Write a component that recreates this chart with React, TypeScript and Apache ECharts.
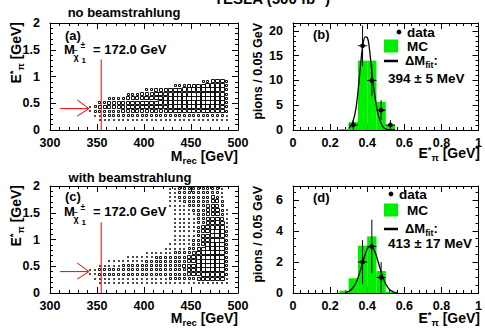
import React, { useEffect, useRef } from 'react';
import * as echarts from 'echarts';

const FONT = '"Liberation Sans", Arial, Helvetica, sans-serif';

// ---- 2D box histograms (M_rec vs E*_pi) ----
const mCenters = [
  342.5, 347.5, 352.5, 357.5, 362.5, 367.5, 372.5, 377.5, 382.5, 387.5,
  392.5, 397.5, 402.5, 407.5, 412.5, 417.5, 422.5, 427.5, 432.5, 437.5,
  442.5, 447.5, 452.5, 457.5, 462.5, 467.5, 472.5, 477.5, 482.5, 487.5,
];
const mBinWidth = 5;
const eBinWidth = 0.08;
const maxLevel = 8;

const eRowsA = [0.92, 0.84, 0.76, 0.68, 0.6, 0.52, 0.44, 0.36, 0.28, 0.2];
const boxLevelsA = [
  '00000 00000 00000 00000 00003 45663',
  '00000 00000 00000 00034 45566 77773',
  '00000 00000 00345 55666 77777 88873',
  '00000 00034 45556 66777 77888 88873',
  '00003 34455 55666 67777 78888 88873',
  '00345 55556 66666 77777 77788 88873',
  '24555 55566 66666 66777 77777 77763',
  '23444 44555 55555 55666 66666 66663',
  '01233 33333 33444 44444 44444 44442',
  '00111 11111 11111 11111 11111 11111',
];

const eRowsC = [
  1.96, 1.88, 1.8, 1.72, 1.64, 1.56, 1.48, 1.4, 1.32, 1.24, 1.16, 1.08,
  1.0, 0.92, 0.84, 0.76, 0.68, 0.6, 0.52, 0.44, 0.36, 0.28, 0.2,
];
const boxLevelsC = [
  '00000 00000 00000 00123 34444 44410',
  '00000 00000 00000 00123 34444 44420',
  '00000 00000 00000 00123 33444 45420',
  '00000 00000 00000 00112 33344 45530',
  '00000 00000 00000 00112 23344 55530',
  '00000 00000 00000 00012 22334 55631',
  '00000 00000 00000 00011 22234 55641',
  '00000 00000 00000 00011 12234 56652',
  '00000 00000 00000 00011 11234 56762',
  '00000 00000 00000 00011 11235 67772',
  '00000 00000 00000 00011 11245 67873',
  '00000 00000 00000 00011 12245 67873',
  '00000 00000 00000 00011 12345 67883',
  '00000 00000 00000 00112 22345 78883',
  '00000 00000 00000 01122 23456 78883',
  '00000 00000 00222 22233 34567 88883',
  '00000 00022 22223 33334 45677 88883',
  '00002 22222 22333 33344 45677 88883',
  '00222 22333 33333 34444 55677 88883',
  '12333 33333 33333 33444 45677 88883',
  '12333 33333 33333 33444 45667 77773',
  '01222 22222 22222 22333 33455 66662',
  '00111 11111 11111 11111 11222 22221',
];

// red markers (M_rec threshold line and arrow at E*=0.4)
const thresholdLine = [[354.5, 0], [354.5, 1.32]];
const arrowShaft = [[310.6, 0.4], [341, 0.4]];
const arrowHead = [[329, 0.56], [341.5, 0.4], [329, 0.26]];

// ---- 1D histograms (E*_pi) ----
const histBinWidth = 0.05;
const histLo = [0.25, 0.3, 0.35, 0.4, 0.45, 0.5];
const mcB = [0.2, 1.6, 14, 14, 5.7, 1.0];
const mcD = [0.15, 0.95, 3.05, 3.65, 1.42, 0.08];

const dataEB = [0.325, 0.375, 0.425, 0.475, 0.525];
const dataB = [1, 17, 10, 4, 1];
const errB = [1, 4.1, 3.2, 2, 1];

const dataED = [0.375, 0.425, 0.475];
const dataD = [2, 3, 1];
const errD = [1.41, 1.73, 1];

const fitEB = [0.3, 0.32, 0.34, 0.36, 0.375, 0.39, 0.4, 0.41, 0.43, 0.445, 0.46, 0.48, 0.5, 0.53, 0.55];
const fitB = [0.3, 1.3, 4.5, 11.5, 16.8, 18.8, 18.7, 17.0, 10.0, 6.0, 3.0, 0.9, 0.2, 0.02, 0];

const fitED = [0.28, 0.3, 0.32, 0.34, 0.36, 0.38, 0.4, 0.42, 0.44, 0.46, 0.48, 0.5, 0.52, 0.54, 0.56];
const fitD = [0.03, 0.1, 0.29, 0.68, 1.33, 2.14, 2.82, 3.05, 2.7, 1.97, 1.18, 0.58, 0.23, 0.08, 0.02];

// axis ranges: [min, max, interval, minor splits]
const axisX = [
  [300, 500, 50, 5],
  [0, 1, 0.2, 5],
  [300, 500, 50, 5],
  [0, 1, 0.2, 5],
];
const axisY = [
  [0, 2, 0.5, 5],
  [0, 21.6, 5, 5],
  [0, 2, 0.5, 5],
  [0, 6.9, 2, 4],
];

const grids = [
  { left: 50, top: 23, width: 188, height: 107 },
  { left: 293, top: 23, width: 189, height: 107 },
  { left: 50, top: 186, width: 188, height: 107 },
  { left: 293, top: 186, width: 189, height: 107 },
];

function axisDef(g: number, pos: string, r: number[], showLabel: boolean, dim: string) {
  const roundMax = Math.abs(r[1] / r[2] - Math.round(r[1] / r[2])) < 1e-6;
  return {
    type: 'value',
    gridIndex: g,
    position: pos,
    min: r[0],
    max: r[1],
    interval: r[2],
    axisLine: { show: true, onZero: false, lineStyle: { color: '#000', width: 1 } },
    axisTick: { show: true, inside: true, length: 6, lineStyle: { color: '#000', width: 1 } },
    minorTick: { show: true, splitNumber: r[3], length: 3, lineStyle: { color: '#000', width: 1 } },
    splitLine: { show: false },
    minorSplitLine: { show: false },
    axisLabel: {
      show: showLabel,
      showMaxLabel: roundMax ? true : false,
      margin: dim === 'x' ? 6 : 10,
      color: '#000',
      fontSize: 12.5,
      fontWeight: 'bold',
      fontFamily: FONT,
    },
  };
}

function boxSeries(g: number, rows: number[], levels: string[]) {
  const data: number[][] = [];
  levels.forEach((row, r) => {
    const s = row.replace(/ /g, '');
    for (let c = 0; c < s.length; c++) {
      const lv = Number(s[c]);
      if (lv > 0) data.push([mCenters[c], rows[r], lv]);
    }
  });
  return {
    type: 'custom',
    xAxisIndex: 2 * g,
    yAxisIndex: 2 * g,
    data,
    z: 3,
    silent: true,
    renderItem: (_p: any, api: any) => {
      const c = api.coord([api.value(0), api.value(1)]);
      const s = api.size([mBinWidth, eBinWidth]);
      const f = Math.min(api.value(2) / maxLevel, 1);
      const w = Math.max(Math.round(s[0] * f), 1);
      const h = Math.max(Math.round(s[1] * f), 1);
      const x0 = Math.round(c[0] - w / 2) + 0.5;
      const y0 = Math.round(c[1] - h / 2) + 0.5;
      return {
        type: 'rect',
        shape: { x: x0, y: y0, width: w, height: h },
        style: { fill: 'transparent', stroke: '#111', lineWidth: 1 },
      };
    },
  };
}

function redLine(g: number, pts: number[][]) {
  return {
    type: 'line',
    xAxisIndex: 2 * g,
    yAxisIndex: 2 * g,
    data: pts,
    symbol: 'none',
    silent: true,
    z: 5,
    lineStyle: { color: '#ff0000', width: 1 },
  };
}

function histSeries(g: number, vals: number[]) {
  return {
    type: 'custom',
    xAxisIndex: 2 * g,
    yAxisIndex: 2 * g,
    data: histLo.map((lo, i) => [lo, vals[i]]),
    z: 2,
    silent: true,
    renderItem: (_p: any, api: any) => {
      const a = api.coord([api.value(0), api.value(1)]);
      const b = api.coord([api.value(0) + histBinWidth, 0]);
      return {
        type: 'rect',
        shape: { x: a[0], y: a[1], width: b[0] - a[0], height: b[1] - a[1] },
        style: { fill: '#00ee00', stroke: 'none' },
      };
    },
  };
}

function pointSeries(g: number, xs: number[], ys: number[], es: number[]) {
  return {
    type: 'custom',
    xAxisIndex: 2 * g,
    yAxisIndex: 2 * g,
    data: xs.map((x, i) => [x, ys[i], es[i]]),
    z: 6,
    silent: true,
    renderItem: (_p: any, api: any) => {
      const x = api.value(0);
      const y = api.value(1);
      const e = api.value(2);
      const top = api.coord([x, y + e]);
      const bot = api.coord([x, Math.max(y - e, 0)]);
      const l = api.coord([x - histBinWidth / 2, y]);
      const r = api.coord([x + histBinWidth / 2, y]);
      const c = api.coord([x, y]);
      return {
        type: 'group',
        children: [
          { type: 'line', shape: { x1: top[0], y1: top[1], x2: bot[0], y2: bot[1] }, style: { stroke: '#000', lineWidth: 1 } },
          { type: 'line', shape: { x1: l[0], y1: l[1], x2: r[0], y2: r[1] }, style: { stroke: '#000', lineWidth: 1 } },
          { type: 'circle', shape: { cx: c[0], cy: c[1], r: 2.4 }, style: { fill: '#000' } },
        ],
      };
    },
  };
}

function fitSeries(g: number, xs: number[], ys: number[]) {
  return {
    type: 'line',
    xAxisIndex: 2 * g,
    yAxisIndex: 2 * g,
    data: xs.map((x, i) => [x, ys[i]]),
    symbol: 'none',
    smooth: 0.4,
    silent: true,
    z: 5,
    lineStyle: { color: '#000', width: 1.3 },
  };
}

// ---- text helpers ----
function txt(x: number, y: number, text: string, size: number, align = 'left', vAlign = 'middle') {
  return {
    type: 'text',
    x,
    y,
    silent: true,
    z: 10,
    style: { text, fill: '#000', font: `bold ${size}px ${FONT}`, align, verticalAlign: vAlign },
  };
}

const richStyles = (size: number) => ({
  m: { fontSize: size, fontWeight: 'bold', fontFamily: FONT, lineHeight: 18, fill: '#000' },
  sub: { fontSize: size * 0.68, fontWeight: 'bold', fontFamily: FONT, verticalAlign: 'bottom', fill: '#000' },
  sup: { fontSize: size * 0.68, fontWeight: 'bold', fontFamily: FONT, verticalAlign: 'top', fill: '#000' },
});

function richTxt(x: number, y: number, text: string, size: number, align: string, rotation = 0) {
  return {
    type: 'text',
    x,
    y,
    rotation,
    silent: true,
    z: 10,
    style: { text, align, verticalAlign: 'middle', rich: richStyles(size) },
  };
}

function mChiLabel(dy: number) {
  return [
    txt(64, 49 + dy, 'M', 13),
    txt(73.5, 50.5 + dy, '~', 7),
    txt(73.5, 57 + dy, 'χ', 9),
    txt(80.5, 45 + dy, '±', 8.5),
    txt(81.5, 60 + dy, '1', 8),
    txt(93, 49 + dy, '= 172.0 GeV', 13),
  ];
}

function legend(dotX: number, dotY: number, textX: number, mcY: number, lineY: number, valY: number, value: string) {
  return [
    { type: 'circle', shape: { cx: dotX, cy: dotY, r: 2.4 }, style: { fill: '#000' }, silent: true, z: 10 },
    txt(textX, dotY, 'data', 13.5),
    { type: 'rect', shape: { x: 384, y: mcY - 6.5, width: 14, height: 13 }, style: { fill: '#00ee00' }, silent: true, z: 10 },
    txt(407, mcY, 'MC', 13.5),
    { type: 'line', shape: { x1: 384, y1: lineY, x2: 398, y2: lineY }, style: { stroke: '#000', lineWidth: 2.5 }, silent: true, z: 10 },
    richTxt(405, lineY - 1, '{m|ΔM}{sub|fit}{m|:}', 13, 'left'),
    txt(388, valY, value, 13.5),
  ];
}

function buildOption() {
  const xAxis: any[] = [];
  const yAxis: any[] = [];
  grids.forEach((_g, i) => {
    xAxis.push(axisDef(i, 'bottom', axisX[i], true, 'x'));
    xAxis.push(axisDef(i, 'top', axisX[i], false, 'x'));
    yAxis.push(axisDef(i, 'left', axisY[i], true, 'y'));
    yAxis.push(axisDef(i, 'right', axisY[i], false, 'y'));
  });

  const series: any[] = [
    boxSeries(0, eRowsA, boxLevelsA),
    redLine(0, thresholdLine),
    redLine(0, arrowShaft),
    redLine(0, arrowHead),
    boxSeries(2, eRowsC, boxLevelsC),
    redLine(2, thresholdLine),
    redLine(2, arrowShaft),
    redLine(2, arrowHead),
    histSeries(1, mcB),
    fitSeries(1, fitEB, fitB),
    pointSeries(1, dataEB, dataB, errB),
    histSeries(3, mcD),
    fitSeries(3, fitED, fitD),
    pointSeries(3, dataED, dataD, errD),
  ];

  const eLabel = '{m|E}{sup|*}{sub|π}{m| [GeV]}';
  const graphic: any[] = [
    txt(272, 6, 'TESLA (500 fb⁻¹)', 15, 'center', 'bottom'),
    txt(124, 12, 'no beamstrahlung', 13, 'center'),
    txt(130, 177, 'with beamstrahlung', 13, 'center'),
    txt(65, 35, '(a)', 13),
    txt(65, 196, '(c)', 13),
    txt(313, 34, '(b)', 13),
    txt(313, 197, '(d)', 13),
    ...mChiLabel(0),
    ...mChiLabel(162),
    richTxt(16, 22, eLabel, 14, 'right', Math.PI / 2),
    richTxt(16, 185, eLabel, 14, 'right', Math.PI / 2),
    richTxt(258, 23, '{m|pions / 0.05 GeV}', 12.5, 'right', Math.PI / 2),
    richTxt(258, 186, '{m|pions / 0.05 GeV}', 12.5, 'right', Math.PI / 2),
    richTxt(238, 156, '{m|M}{sub|rec}{m| [GeV]}', 14, 'right'),
    richTxt(238, 318, '{m|M}{sub|rec}{m| [GeV]}', 14, 'right'),
    richTxt(480, 153, eLabel, 14, 'right'),
    richTxt(480, 318, eLabel, 14, 'right'),
    ...legend(399, 32, 407, 46, 61, 78, '394 ± 5 MeV'),
    ...legend(391, 194, 399, 210, 229, 243, '413 ± 17 MeV'),
  ];

  return {
    animation: false,
    backgroundColor: '#fff',
    grid: grids.map((g) => ({ ...g, containLabel: false })),
    xAxis,
    yAxis,
    series,
    graphic,
  };
}

export default function App() {
  const ref = useRef<HTMLDivElement>(null);
  useEffect(() => {
    if (!ref.current) return;
    const chart = echarts.init(ref.current, undefined, { renderer: 'svg' });
    chart.setOption(buildOption() as any);
    return () => chart.dispose();
  }, []);
  return (
    <div
      ref={ref}
      style={{ position: 'fixed', left: 0, top: 0, width: 485, height: 328, background: '#fff' }}
    />
  );
}
